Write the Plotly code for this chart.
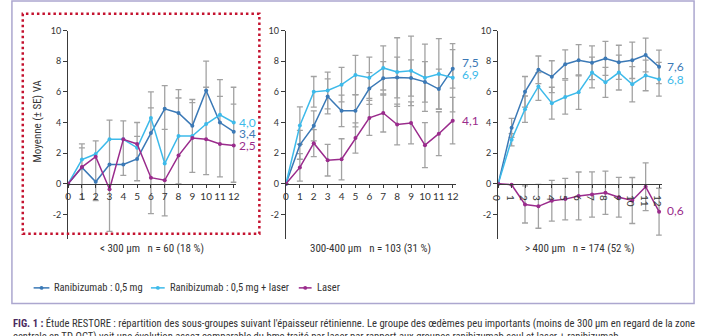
import plotly.graph_objects as go

# ---------------- data ----------------
months = list(range(13))
x_tick_labels = [str(m) for m in months]
y_tick_vals = [-2, 0, 2, 4, 6, 8, 10]
y_tick_labels = ["-2", "0", "2", "4", "6", "8", "10"]

series_names = ["Ranibizumab : 0,5 mg", "Ranibizumab : 0,5 mg + laser", "Laser"]
panel_titles = ["< 300 µm   n = 60 (18 %)",
                "300-400 µm   n = 103 (31 %)",
                "> 400 µm   n = 174 (52 %)"]
y_title = "Moyenne (± SE) VA"

# Panel 1 : < 300 µm
p1_ranibi = [0, 1.07, 0.13, 1.26, 1.26, 1.62, 3.31, 4.89, 4.62, 3.78, 6.09, 4.0, 3.4]
p1_combo = [0, 1.58, 1.94, 2.9, 2.9, 2.35, 4.3, 1.32, 3.12, 3.12, 3.9, 4.5, 4.0]
p1_laser = [0, 1.09, 1.77, -0.36, 2.9, 2.6, 0.4, 0.23, 1.84, 2.99, 2.9, 2.6, 2.5]
# ends of the grey SE whiskers seen at each month
p1_bar_top = [None, 2.6, 2.8, 4.15, 4.1, 4.0, 6.0, 6.4, 6.15, 5.5, 8.0, 6.8, 6.3]
p1_bar_bot = [None, -1.0, -1.1, -3.1, 0.55, 0.2, -1.95, -2.1, 0.0, 0.75, 0.6, 0.45, 0.1]
p1_bar_cap = [None, 2.35, None, None, None, 3.1, 4.95, 3.55, 5.6, 5.3, 6.3, 5.7, 5.2]
p1_end_labels = ["3,4", "4,0", "2,5"]

# Panel 2 : 300-400 µm
p2_ranibi = [0, 2.54, 3.78, 5.7, 4.76, 4.76, 6.22, 6.88, 6.94, 6.9, 6.65, 6.18, 7.5]
p2_combo = [0, 3.8, 6.0, 6.09, 6.47, 7.1, 6.92, 7.56, 7.29, 7.37, 6.92, 7.16, 6.92]
p2_laser = [0, 1.07, 2.65, 1.54, 1.6, 2.99, 4.3, 4.62, 3.87, 3.97, 2.52, 3.27, 4.12]
p2_se_ranibi = [0, 0.94, 0.98, 1.14, 1.03, 1.05, 1.04, 1.09, 1.33, 1.18, 1.32, 1.3, 1.26]
p2_se_combo = [0, 1.22, 1.0, 1.2, 1.13, 1.28, 1.35, 1.44, 2.24, 2.27, 2.2, 2.31, 2.23]
p2_se_laser = [0, 0.9, 0.88, 1.03, 1.34, 0.99, 1.14, 1.24, 1.33, 1.37, 1.47, 1.43, 1.52]
p2_end_labels = ["7,5", "6,9", "4,1"]

# Panel 3 : > 400 µm
p3_ranibi = [0, 3.65, 6.0, 7.44, 6.99, 7.8, 8.06, 7.9, 8.18, 7.93, 8.06, 8.4, 7.63]
p3_combo = [0, 2.88, 4.87, 6.35, 5.26, 5.66, 5.98, 7.26, 6.62, 7.26, 6.5, 7.07, 6.82]
p3_laser = [0, -0.06, -1.35, -1.47, -1.11, -1.0, -0.79, -0.7, -0.58, -0.88, -1.09, -0.19, -1.82]
p3_se_ranibi = [0, 0.62, 1.0, 0.9, 1.04, 0.94, 1.02, 1.1, 1.11, 1.11, 1.19, 1.1, 1.09]
p3_se_combo = [0, 0.4, 0.86, 0.9, 1.04, 1.11, 1.12, 1.0, 0.98, 1.14, 1.15, 1.0, 1.1]
p3_se_laser = [0, 0, 1.21, 1.43, 1.33, 1.35, 1.56, 1.48, 1.41, 1.3, 1.5, 1.56, 1.53]
p3_end_labels = ["7,6", "6,8", "0,6"]

caption_1 = ("<b><span style='color:#4b2a5e'>FIG. 1 :</span></b> Étude RESTORE : répartition des sous-groupes "
             "suivant l'épaisseur rétinienne. Le groupe des œdèmes peu importants (moins de 300 µm en regard de la zone")
caption_2 = ("centrale en TD-OCT) voit une évolution assez comparable du bmc traité par laser par rapport "
             "aux groupes ranibizumab seul et laser + ranibizumab.")

# ---------------- style / layout ----------------
W, H = 702, 336
C_SER = ["#3b79b6", "#3dbaea", "#9a2b8c"]
BAR = "#a2a2a2"
AXIS = "#3a3a3a"
TEXT = "#333333"
FRAME = "#aca7cf"
DOT = "#c4122f"
NARROW = "Roboto Condensed, Liberation Sans Narrow, Arial Narrow, sans-serif"

PANEL_PX = [(62.0, 232.8), (283.0, 455.0), (498.3, 664.2)]
Y_TOP, Y_BOT = 25.0, 237.2
X_RANGE = [0, 12.2]
Y_RANGE = [-3.6, 10]
ZERO_PY = Y_TOP + (Y_RANGE[1] / (Y_RANGE[1] - Y_RANGE[0])) * (Y_BOT - Y_TOP)


def fx(px):
    return px / W


def fy(py):
    return 1 - py / H


panels = [
    dict(vals=[p1_ranibi, p1_combo, p1_laser], se=None, labels=p1_end_labels,
         xshift=3, yshift=[-2, 0, 0]),
    dict(vals=[p2_ranibi, p2_combo, p2_laser], se=[p2_se_ranibi, p2_se_combo, p2_se_laser],
         labels=p2_end_labels, xshift=7, yshift=[6, 3, 0]),
    dict(vals=[p3_ranibi, p3_combo, p3_laser], se=[p3_se_ranibi, p3_se_combo, p3_se_laser],
         labels=p3_end_labels, xshift=6, yshift=[0, 0, 1]),
]

fig = go.Figure()


def err(plus, minus):
    return dict(type="data", symmetric=False, array=plus, arrayminus=minus,
                color=BAR, thickness=1.3, width=3)


ghost = dict(size=2, opacity=0)

# error bars first (under the lines)
for i, p in enumerate(panels):
    xa = "x" if i == 0 else f"x{i+1}"
    ya = "y" if i == 0 else f"y{i+1}"
    if p["se"] is None:
        span = [None if t is None else round(t - b, 3) for t, b in zip(p1_bar_top, p1_bar_bot)]
        fig.add_trace(go.Scatter(x=months, y=p1_bar_top, mode="markers", marker=ghost,
                                 error_y=err([0] * 13, span), xaxis=xa, yaxis=ya,
                                 showlegend=False, hoverinfo="skip"))
        fig.add_trace(go.Scatter(x=months, y=p1_bar_cap, mode="markers", marker=ghost,
                                 error_y=err([0] * 13, [0] * 13), xaxis=xa, yaxis=ya,
                                 showlegend=False, hoverinfo="skip"))
    else:
        for vals, se in zip(p["vals"], p["se"]):
            fig.add_trace(go.Scatter(x=months, y=vals, mode="markers", marker=ghost,
                                     error_y=err(se, se), xaxis=xa, yaxis=ya,
                                     showlegend=False, hoverinfo="skip"))

# series lines
annotations = []
for i, p in enumerate(panels):
    xa = "x" if i == 0 else f"x{i+1}"
    ya = "y" if i == 0 else f"y{i+1}"
    for k, vals in enumerate(p["vals"]):
        fig.add_trace(go.Scatter(x=months, y=vals, mode="lines+markers", name=series_names[k],
                                 line=dict(color=C_SER[k], width=1.5),
                                 marker=dict(color=C_SER[k], size=4),
                                 xaxis=xa, yaxis=ya, showlegend=False))
        annotations.append(dict(x=months[-1], y=vals[-1], xref=xa, yref=ya, text=p["labels"][k],
                                showarrow=False, xanchor="left", yanchor="middle",
                                xshift=p["xshift"], yshift=p["yshift"][k],
                                font=dict(family="Lato, sans-serif", size=12, color=C_SER[k])))
    cx = (PANEL_PX[i][0] + PANEL_PX[i][1]) / 2
    annotations.append(dict(x=fx(cx), y=fy(247), xref="paper", yref="paper", text=panel_titles[i],
                            showarrow=False, xanchor="center", yanchor="middle",
                            font=dict(family=NARROW, size=11, color=TEXT)))

# y-axis title
annotations.append(dict(x=fx(31), y=fy(117), xref="paper", yref="paper", text=y_title,
                        textangle=-90, showarrow=False, xanchor="center", yanchor="middle",
                        font=dict(family=NARROW, size=11, color=TEXT)))

# manual legend
legend_line_px = [(27, 43), (146, 160), (296, 309)]
LEG_Y = 287
shapes = []
for k, (a, b) in enumerate(legend_line_px):
    shapes.append(dict(type="line", xref="paper", yref="paper", x0=fx(a), x1=fx(b),
                       y0=fy(LEG_Y), y1=fy(LEG_Y), line=dict(color=C_SER[k], width=1.5)))
    c = (a + b) / 2
    shapes.append(dict(type="circle", xref="paper", yref="paper", x0=fx(c - 2), x1=fx(c + 2),
                       y0=fy(LEG_Y + 2), y1=fy(LEG_Y - 2), fillcolor=C_SER[k],
                       line=dict(color=C_SER[k], width=0)))
    annotations.append(dict(x=fx(b + 3), y=fy(LEG_Y), xref="paper", yref="paper",
                            text=series_names[k], showarrow=False, xanchor="left", yanchor="middle",
                            font=dict(family=NARROW, size=10.5, color=TEXT)))

# frame and red dotted box
shapes.append(dict(type="rect", xref="paper", yref="paper", x0=fx(5), x1=fx(697), y0=fy(303), y1=fy(-5),
                   line=dict(color=FRAME, width=1.5)))
shapes.append(dict(type="rect", xref="paper", yref="paper", x0=fx(16), x1=fx(256), y0=fy(232), y1=fy(8),
                   line=dict(color=DOT, width=2.5, dash="2.5px,3px")))

# caption
annotations.append(dict(x=fx(4), y=fy(323), xref="paper", yref="paper", text=caption_1,
                        showarrow=False, xanchor="left", yanchor="middle",
                        font=dict(family=NARROW, size=10.6, color=TEXT)))
annotations.append(dict(x=fx(4), y=fy(337), xref="paper", yref="paper", text=caption_2,
                        showarrow=False, xanchor="left", yanchor="middle",
                        font=dict(family=NARROW, size=10.6, color=TEXT)))

layout = dict(width=W, height=H, margin=dict(l=0, r=0, t=0, b=0),
              paper_bgcolor="white", plot_bgcolor="rgba(0,0,0,0)",
              showlegend=False, shapes=shapes, annotations=annotations)

for i in range(3):
    xs = "xaxis" if i == 0 else f"xaxis{i+1}"
    ys = "yaxis" if i == 0 else f"yaxis{i+1}"
    xref = "x" if i == 0 else f"x{i+1}"
    layout[xs] = dict(domain=[fx(PANEL_PX[i][0]), fx(PANEL_PX[i][1])], range=X_RANGE,
                      anchor="free", position=fy(ZERO_PY), tickmode="array",
                      tickvals=months, ticktext=x_tick_labels, showgrid=False, zeroline=False,
                      showline=True, linecolor=AXIS, linewidth=1.2, ticks="outside", ticklen=3,
                      tickcolor=AXIS, tickfont=dict(family="Lato, sans-serif", size=10, color=TEXT),
                      fixedrange=True)
    layout[ys] = dict(domain=[fy(Y_BOT), fy(Y_TOP)], range=Y_RANGE, anchor=xref,
                      tickmode="array", tickvals=y_tick_vals, ticktext=y_tick_labels,
                      showgrid=False, zeroline=False, showline=True, linecolor=AXIS, linewidth=1.2,
                      ticks="outside", ticklen=4, tickcolor=AXIS,
                      tickfont=dict(family="Lato, sans-serif", size=9, color=TEXT), fixedrange=True)

fig.update_layout(**layout)
fig.write_html("out.html")
